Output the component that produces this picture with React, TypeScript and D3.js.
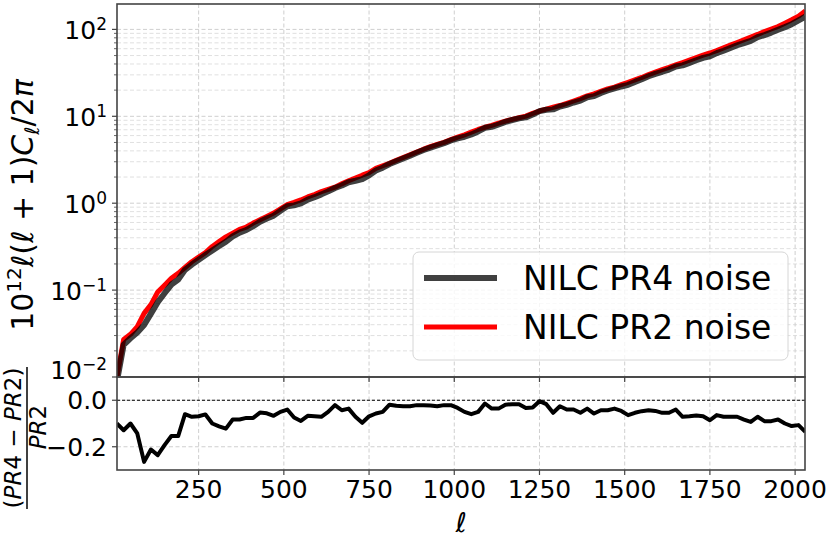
import React from 'react';
import * as d3 from 'd3';

const ELL = [10,30,50,70,90,110,130,150,170,190,210,230,250,270,290,310,330,350,370,390,
  410,430,450,470,490,510,530,550,570,590,610,630,650,670,690,710,730,750,770,790,
  810,830,850,870,890,910,930,950,970,990,1010,1030,1050,1070,1090,1110,1130,1150,1170,1190,
  1210,1230,1250,1270,1290,1310,1330,1350,1370,1390,1410,1430,1450,1470,1490,1510,1530,1550,1570,1590,
  1610,1630,1650,1670,1690,1710,1730,1750,1770,1790,1810,1830,1850,1870,1890,1910,1930,1950,1970,1990,
  2010,2030];

const PR2_NOISE = [0.0098,0.027,0.031,0.038,0.054,0.068,0.095,0.114,0.137,0.156,
  0.182,0.212,0.24,0.27,0.318,0.362,0.41,0.452,0.50,0.532,
  0.59,0.645,0.705,0.77,0.86,0.96,1.02,1.09,1.18,1.26,
  1.36,1.44,1.53,1.67,1.81,1.95,2.10,2.25,2.52,2.70,
  2.88,3.12,3.36,3.61,3.88,4.18,4.47,4.75,5.02,5.38,
  5.75,6.12,6.58,7.05,7.48,7.85,8.35,8.78,9.22,9.62,
  10.05,10.8,11.5,12.1,12.7,13.3,14.1,15.0,16.0,17.2,
  18.1,19.4,20.7,21.7,23.1,24.6,26.3,28.0,30.2,32.3,
  34.4,36.5,39.0,41.5,44.3,47.3,50.5,53.5,57.0,61.2,
  65.8,70.7,76.0,81.5,87.5,94.5,101,108,118,129,
  142,163];

const RATIO = [-0.10,-0.129,-0.10,-0.143,-0.265,-0.212,-0.236,-0.193,-0.154,-0.154,
  -0.06,-0.071,-0.069,-0.061,-0.10,-0.112,-0.122,-0.083,-0.083,-0.076,
  -0.076,-0.053,-0.056,-0.067,-0.05,-0.04,-0.074,-0.089,-0.067,-0.069,
  -0.071,-0.05,-0.021,-0.043,-0.036,-0.071,-0.097,-0.069,-0.057,-0.05,
  -0.019,-0.024,-0.026,-0.026,-0.021,-0.021,-0.023,-0.026,-0.021,-0.021,
  -0.033,-0.05,-0.06,-0.05,-0.014,-0.036,-0.036,-0.019,-0.017,-0.017,
  -0.033,-0.031,-0.004,-0.017,-0.054,-0.026,-0.04,-0.04,-0.054,-0.036,
  -0.057,-0.043,-0.043,-0.036,-0.046,-0.064,-0.054,-0.047,-0.043,-0.046,
  -0.054,-0.054,-0.04,-0.071,-0.069,-0.066,-0.069,-0.086,-0.064,-0.071,
  -0.071,-0.071,-0.083,-0.093,-0.071,-0.09,-0.09,-0.083,-0.10,-0.111,
  -0.107,-0.136];

const X_TICKS = [250, 500, 750, 1000, 1250, 1500, 1750, 2000];
const Y_MAJOR = [0.01, 0.1, 1, 10, 100];
const Y_MAJOR_EXP = ['−2', '−1', '0', '1', '2'];
const RATIO_TICKS = [0.0, -0.2];
const RATIO_TICK_LABELS = ['0.0', '−0.2'];
const LEGEND_LABELS = ['NILC PR4 noise', 'NILC PR2 noise'];

const W = 830, H = 543;
const L = 117, R = 805, T = 4, MB = 377, BB = 470;
const FONT = 'DejaVu Sans';
const SPINE = '#444';

export default function App() {
  const x = d3.scaleLinear().domain([10.5, 2029]).range([L, R]);
  const y = d3.scaleLog().domain([0.01, 196]).range([MB, T]);
  const yr = d3.scaleLinear().domain([-0.3, 0.1]).range([BB, MB]);

  const pr4 = PR2_NOISE.map((v, i) => v * (1 + RATIO[i]));
  const lineMain = d3.line<number>().x((_, i) => x(ELL[i])).y(d => y(d));
  const lineRatio = d3.line<number>().x((_, i) => x(ELL[i])).y(d => yr(d));

  const minor: number[] = [];
  for (let k = -2; k <= 2; k++) {
    for (let m = 2; m <= 9; m++) {
      const v = m * Math.pow(10, k);
      if (v < 196) minor.push(v);
    }
  }

  return (
    <svg width={W} height={H} style={{ position: 'absolute', left: 0, top: 0, background: '#fff' }}
      fontFamily={FONT}>
      <defs>
        <clipPath id="cm"><rect x={L} y={T} width={R - L} height={MB - T} /></clipPath>
        <clipPath id="cr"><rect x={L} y={MB} width={R - L} height={BB - MB} /></clipPath>
      </defs>
      <rect x={0} y={0} width={W} height={H} fill="#fff" />

      {/* main grid */}
      <g clipPath="url(#cm)">
        {minor.map(v => (
          <line key={'mn' + v} x1={L} x2={R} y1={y(v)} y2={y(v)} stroke="#dcdcdc" strokeWidth={0.9} strokeDasharray="4,2.5" />
        ))}
        {Y_MAJOR.map(v => (
          <line key={'mj' + v} x1={L} x2={R} y1={y(v)} y2={y(v)} stroke="#cfcfcf" strokeWidth={1} strokeDasharray="4,2.5" />
        ))}
        {X_TICKS.map(v => (
          <line key={'vx' + v} x1={x(v)} x2={x(v)} y1={T} y2={MB} stroke="#cfcfcf" strokeWidth={1} strokeDasharray="4,2.5" />
        ))}
      </g>

      {/* ratio grid */}
      <g clipPath="url(#cr)">
        {RATIO_TICKS.map(v => (
          <line key={'rg' + v} x1={L} x2={R} y1={yr(v)} y2={yr(v)} stroke="#cfcfcf" strokeWidth={1} strokeDasharray="4,2.5" />
        ))}
        {X_TICKS.map(v => (
          <line key={'rx' + v} x1={x(v)} x2={x(v)} y1={MB} y2={BB} stroke="#cfcfcf" strokeWidth={1} strokeDasharray="4,2.5" />
        ))}
        <line x1={L} x2={R} y1={yr(0)} y2={yr(0)} stroke="#000" strokeWidth={1} strokeDasharray="3,2" />
      </g>

      {/* main lines */}
      <g clipPath="url(#cm)">
        <path d={lineMain(PR2_NOISE) || ''} fill="none" stroke="#ff0000" strokeWidth={5} strokeLinejoin="round" />
        <path d={lineMain(pr4) || ''} fill="none" stroke="#000" strokeOpacity={0.75} strokeWidth={6} strokeLinejoin="round" />
      </g>

      {/* ratio line */}
      <g clipPath="url(#cr)">
        <path d={lineRatio(RATIO) || ''} fill="none" stroke="#000" strokeWidth={4} strokeLinejoin="round" />
      </g>

      {/* spines */}
      <rect x={L} y={T} width={R - L} height={MB - T} fill="none" stroke={SPINE} strokeWidth={1.6} />
      <rect x={L} y={MB} width={R - L} height={BB - MB} fill="none" stroke={SPINE} strokeWidth={1.6} />

      {/* main y ticks */}
      {Y_MAJOR.map(v => (
        <line key={'yt' + v} x1={L - 5} x2={L} y1={y(v)} y2={y(v)} stroke={SPINE} strokeWidth={1.2} />
      ))}
      {minor.map(v => (
        <line key={'ym' + v} x1={L - 3} x2={L} y1={y(v)} y2={y(v)} stroke={SPINE} strokeWidth={0.8} />
      ))}
      {Y_MAJOR.map((v, i) => (
        <text key={'yl' + v} x={L - 10} y={y(v) + (i === 0 ? 2 : 10)} textAnchor="end" fontSize={25} fill="#000">
          <tspan>10</tspan>
          <tspan dy={-9} fontSize={17}>{Y_MAJOR_EXP[i]}</tspan>
        </text>
      ))}

      {/* ratio y ticks */}
      {RATIO_TICKS.map((v, i) => (
        <g key={'rt' + v}>
          <line x1={L - 5} x2={L} y1={yr(v)} y2={yr(v)} stroke={SPINE} strokeWidth={1.2} />
          <text x={L - 10} y={yr(v) + 9} textAnchor="end" fontSize={25} fill="#000">{RATIO_TICK_LABELS[i]}</text>
        </g>
      ))}

      {/* x ticks */}
      {X_TICKS.map(v => (
        <g key={'xt' + v}>
          <line x1={x(v)} x2={x(v)} y1={MB} y2={MB + 5} stroke={SPINE} strokeWidth={1.2} />
          <line x1={x(v)} x2={x(v)} y1={BB} y2={BB + 5} stroke={SPINE} strokeWidth={1.2} />
          <text x={x(v)} y={BB + 28} textAnchor="middle" fontSize={25} fill="#000">{v}</text>
        </g>
      ))}

      {/* x label */}
      <text x={(L + R) / 2} y={532} textAnchor="middle" fontSize={27} fontStyle="italic" fill="#000">ℓ</text>

      {/* main y label */}
      <text transform={`translate(33,205) rotate(-90)`} textAnchor="middle" fontSize={30} fill="#000">
        <tspan>10</tspan>
        <tspan dy={-12} fontSize={20}>12</tspan>
        <tspan dy={12} fontStyle="italic">ℓ</tspan>
        <tspan>(</tspan>
        <tspan fontStyle="italic">ℓ</tspan>
        <tspan> + 1)</tspan>
        <tspan fontStyle="italic">C</tspan>
        <tspan dy={6} fontSize={20} fontStyle="italic">ℓ</tspan>
        <tspan dy={-6}>/2</tspan>
        <tspan fontStyle="italic">π</tspan>
      </text>

      {/* ratio y label (fraction) */}
      <g transform={`translate(27,438) rotate(-90)`}>
        <text x={0} y={-6} textAnchor="middle" fontSize={23} fill="#000">
          <tspan>(</tspan>
          <tspan fontStyle="italic">PR</tspan>
          <tspan>4 − </tspan>
          <tspan fontStyle="italic">PR</tspan>
          <tspan>2)</tspan>
        </text>
        <line x1={-71} x2={71} y1={0} y2={0} stroke="#000" strokeWidth={1.5} />
        <text x={11} y={19} textAnchor="middle" fontSize={23} fill="#000">
          <tspan fontStyle="italic">PR</tspan>
          <tspan>2</tspan>
        </text>
      </g>

      {/* legend */}
      <rect x={413} y={252} width={375} height={108} rx={6} ry={6} fill="#fff" fillOpacity={0.8} stroke="#d6d6d6" strokeWidth={1} />
      <line x1={424} x2={497} y1={278} y2={278} stroke="#000" strokeOpacity={0.75} strokeWidth={6} />
      <text x={523} y={290} fontSize={33} fill="#000">{LEGEND_LABELS[0]}</text>
      <line x1={424} x2={497} y1={327} y2={327} stroke="#ff0000" strokeWidth={5} />
      <text x={523} y={339} fontSize={33} fill="#000">{LEGEND_LABELS[1]}</text>
    </svg>
  );
}
